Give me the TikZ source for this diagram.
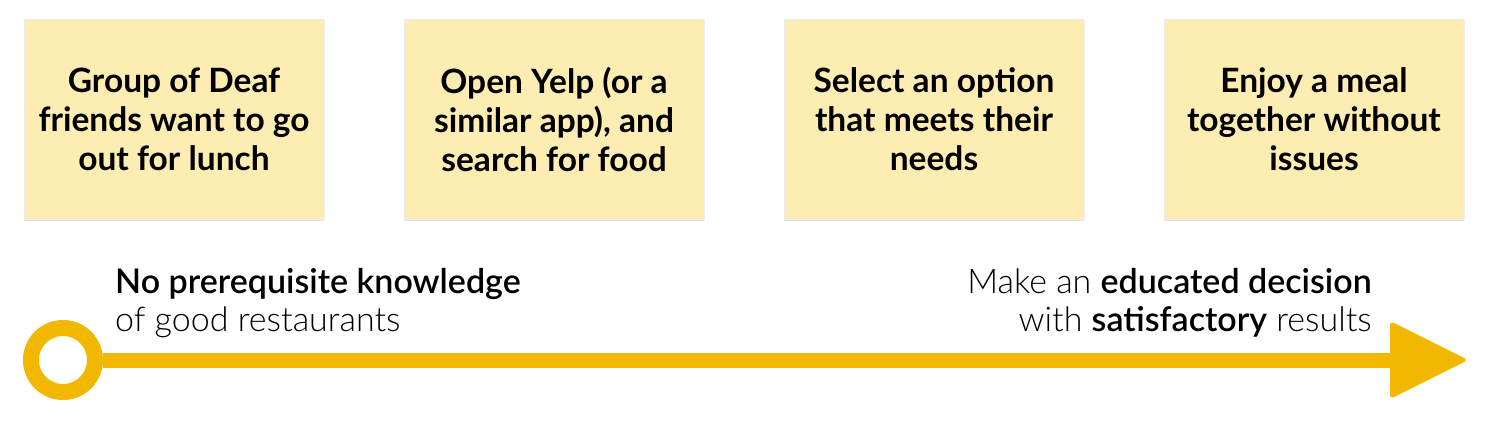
\documentclass[tikz,border=0pt]{standalone}
\usepackage{fontspec}
\setmainfont{Lato}
\newfontfamily\lightfont{Lato Light}
\usetikzlibrary{shadows}
\definecolor{stickyfill}{HTML}{FDEDB2}
\definecolor{lineyellow}{HTML}{F2B800}
\tikzset{
  sticky/.style={fill=stickyfill, draw=black!7, line width=1pt, minimum width=300pt, minimum height=200pt, inner sep=0pt,
    align=center, font=\fontsize{33.5}{39}\selectfont\bfseries,
    drop shadow={shadow xshift=0pt, shadow yshift=-1.5pt, fill=black, opacity=0.12}},
  note/.style={inner sep=0pt, font=\fontsize{34}{38}\selectfont\lightfont}
}
\begin{document}
\begin{tikzpicture}[x=1pt,y=-1pt]
\useasboundingbox (0,0) rectangle (1487,421);
\node[sticky] (s1) at (174,119) {Group of Deaf\\friends want to go\\out for lunch};
\node[sticky] (s2) at (554,119) {Open Yelp (or a\\similar app), and\\search for food};
\node[sticky] (s3) at (934,119) {Select an option\\that meets their\\needs};
\node[sticky] (s4) at (1314,119) {Enjoy a meal\\together without\\issues};
\node[note, anchor=base west, align=left] (left) at (115,331) {\textbf{No prerequisite knowledge}\\of good restaurants};
\node[note, anchor=base east, align=right] (right) at (1372,331) {Make an \textbf{educated decision}\\with \textbf{satisfactory} results};
\node[circle, draw=lineyellow, line width=16pt, minimum size=64pt, inner sep=0pt] (start) at (63,360) {};
\coordinate (headbase) at (1392,360);
\coordinate (tip) at (1468,360);
\draw[lineyellow, line width=15pt] (start.east) -- (headbase);
\fill[lineyellow, rounded corners=4pt] (1390,321) -- (tip) -- (1390,399) -- cycle;
\end{tikzpicture}
\end{document}
